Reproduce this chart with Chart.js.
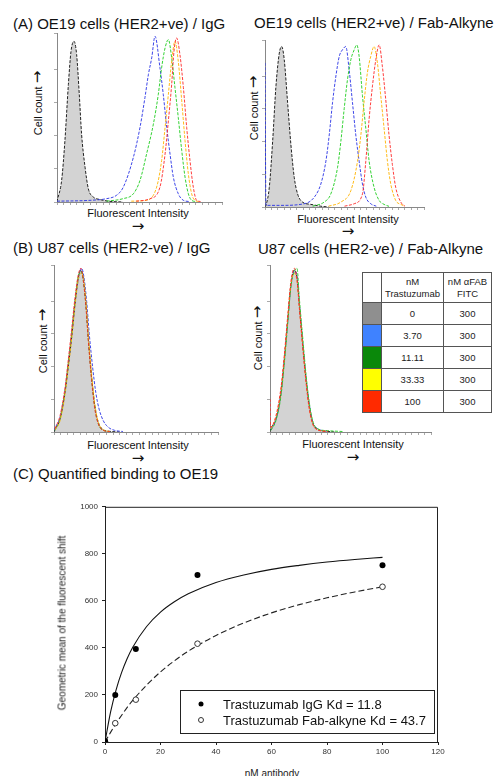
<!DOCTYPE html>
<html>
<head>
<meta charset="utf-8">
<script src="https://cdn.jsdelivr.net/npm/chart.js@4.4.0/dist/chart.umd.min.js"></script>
<style>
  body { margin: 0; background: #fff; font-family: "Liberation Sans", Arial, sans-serif; color: #111; }
  #page { position: relative; width: 502px; height: 776px; overflow: hidden; }
  canvas, .box { position: absolute; }
  .lbl { position: absolute; white-space: nowrap; transform: translate(-50%, -50%); }
  .rot { transform: translate(-50%, -50%) rotate(-90deg); }
  .title { position: absolute; white-space: nowrap; font-size: 15px; transform: translateY(-50%); }
  .ax { font-size: 11px; }
  .arr { font-family: "DejaVu Sans", sans-serif; font-size: 15px; line-height: 11px; }
  table.key { position: absolute; left: 362px; top: 272px; border-collapse: collapse; background: #fff;
              font-size: 9.5px; color: #222; text-align: center; }
  table.key td { border: 1px solid #555; padding: 0; height: 21px; }
  table.key tr.head td { height: 29px; line-height: 12px; }
  .leg { position: absolute; left: 180px; top: 690px; width: 253px; height: 42px; border: 1px solid #222; font-size: 13px; }
  .leg div { position: absolute; left: 42px; white-space: nowrap; transform: translateY(-50%); }
  .dot { position: absolute; width: 5px; height: 5px; border-radius: 50%; transform: translate(-50%, -50%); }
</style>
</head>
<body>
<div id="page">
  <div class="title" style="left:13px; top:23px">(A) OE19 cells (HER2+ve) / IgG</div>
  <div class="title" style="left:254px; top:22px">OE19 cells (HER2+ve) / Fab-Alkyne</div>
  <div class="title" style="left:13px; top:247px">(B) U87 cells (HER2-ve) / IgG</div>
  <div class="title" style="left:258px; top:248px">U87 cells (HER2-ve) / Fab-Alkyne</div>
  <div class="title" style="left:13px; top:473px">(C) Quantified binding to OE19</div>

  <div class="lbl rot ax" style="left:38px; top:103px">Cell count <span class="arr">→</span></div>
  <div class="lbl rot ax" style="left:254px; top:108px">Cell count <span class="arr">→</span></div>
  <div class="lbl rot ax" style="left:43px; top:341px">Cell count <span class="arr">→</span></div>
  <div class="lbl rot ax" style="left:258px; top:338px">Cell count <span class="arr">→</span></div>

  <div class="lbl ax" style="left:138px; top:213px">Fluorescent Intensity</div>
  <div class="lbl arr" style="left:138px; top:226px">→</div>
  <div class="lbl ax" style="left:348px; top:219px">Fluorescent Intensity</div>
  <div class="lbl arr" style="left:348px; top:231px">→</div>
  <div class="lbl ax" style="left:138px; top:445px">Fluorescent Intensity</div>
  <div class="lbl arr" style="left:138px; top:458px">→</div>
  <div class="lbl ax" style="left:353px; top:444px">Fluorescent Intensity</div>
  <div class="lbl arr" style="left:353px; top:457px">→</div>

  <canvas id="histA1" width="170" height="174" style="left:54px; top:31px"></canvas>
  <canvas id="histA2" width="164" height="172" style="left:262px; top:38px"></canvas>
  <canvas id="histB1" width="169" height="172" style="left:51px; top:263px"></canvas>
  <canvas id="histB2" width="166" height="172" style="left:267px; top:263px"></canvas>

  <table class="key">
    <tr class="head"><td style="width:18px"></td><td style="width:61px">nM<br>Trastuzumab</td><td style="width:47px">nM αFAB<br>FITC</td></tr>
    <tr><td style="background:#8f8f8f"></td><td>0</td><td>300</td></tr>
    <tr><td style="background:#3f82ff"></td><td>3.70</td><td>300</td></tr>
    <tr><td style="background:#0a880a"></td><td>11.11</td><td>300</td></tr>
    <tr><td style="background:#ffff00"></td><td>33.33</td><td>300</td></tr>
    <tr><td style="background:#ff2a00"></td><td>100</td><td>300</td></tr>
  </table>

  <canvas id="binding" width="385" height="266" style="left:65px; top:498px"></canvas>
  <div class="lbl rot" style="left:62px; top:623px; font-size:10px; color:#222">Geometric mean of the fluorescent shift</div>
  <div class="lbl" style="left:272px; top:773px; font-size:10px; color:#222">nM antibody</div>

  <div class="leg">
    <span class="dot" style="left:20px; top:13px; background:#000"></span>
    <div style="top:13px">Trastuzumab IgG Kd = 11.8</div>
    <span class="dot" style="left:20px; top:29px; border:1px solid #333; width:4px; height:4px; background:#fff"></span>
    <div style="top:29px">Trastuzumab Fab-alkyne Kd = 43.7</div>
  </div>
</div>

<script>
// Flow histograms: [intensity (% of axis width), cell count (% of peak)]
// (A) OE19 / IgG
const A1_gray   = [[0,0],[0.2,1],[2.8,13],[4.8,37],[6.9,71],[8.5,91],[10.3,97],[11.9,89],[13.5,65],[14.9,41],[17,21],[19,8],[22,3],[26,1.5],[32,0.4],[40,0]];
const A1_blue   = [[0,0.5],[20,1],[30,2],[36,4],[40.2,9],[46.3,27],[50.3,45],[53.3,63],[55.4,77],[57.4,87],[59.4,100],[62.4,81],[64.4,65],[66.5,45],[68.5,29],[70.5,15],[73.5,5],[76.6,1],[80,0.3]];
const A1_green  = [[30,0.5],[40,2],[46.3,5],[50.3,13],[54.3,29],[58.4,47],[61.4,65],[63.4,81],[65.5,93],[67.5,98],[69.5,87],[71.5,69],[73.5,51],[75.6,31],[77.6,15],[79.6,5],[81.6,1],[84,0.3]];
const A1_yellow = [[45,0.5],[54.3,1],[60.4,9],[63.4,25],[65.5,45],[67.5,65],[69.5,85],[71.5,97],[73.5,85],[75.6,61],[77.6,37],[79.6,17],[81.6,5],[83.6,1],[86,0.3]];
const A1_red    = [[48,0.5],[56.4,2],[62.4,9],[65.5,29],[67.5,49],[69.5,71],[70.9,91],[72.5,99],[74.5,89],[76.6,69],[78.6,45],[80.6,25],[82.6,9],[84.6,1],[87,0.3]];

// (A) OE19 / Fab-Alkyne
const A2_gray   = [[0,0],[0.6,1],[2.7,12],[4.8,40],[6.9,74],[9,94],[10.5,98],[12.1,90],[14.2,64],[16.3,38],[18.4,18],[20.5,8],[23.6,3],[28.9,1.6],[35,0.5],[40,0]];
const A2_blue   = [[0,88],[0.6,1],[10,1],[24.7,2],[31,6],[35.1,14],[38.3,28],[40.4,44],[42.5,64],[44.6,80],[46.7,92],[48.7,96],[50.8,98],[52.9,84],[55,64],[57.1,44],[59.2,28],[61.3,14],[63.4,6],[66.5,2],[70,0.5]];
const A2_green  = [[30,0.5],[37.2,3],[41.4,8],[45.6,24],[47.7,40],[49.8,60],[51.9,78],[54,90],[56.1,96],[57.7,99],[59.2,92],[61.3,68],[63.4,48],[65.5,28],[68.6,12],[71.8,4],[74.9,1.6],[78,0.4]];
const A2_yellow = [[40,0.5],[47.7,3],[54,10],[58.2,28],[60.3,44],[62.3,64],[64.4,82],[66.5,92],[68.6,98],[70.7,88],[72.8,68],[74.9,48],[77,28],[79.1,14],[82.2,4],[85.4,1.6],[88,0.4]];
const A2_red    = [[50,0.5],[56.1,2],[61.3,8],[63.4,28],[65.5,54],[67.6,74],[69.7,90],[71.8,99],[73.8,86],[75.9,66],[78,44],[80.1,26],[82.2,12],[85.4,3],[88,0.5]];

// (B) U87 / IgG
const B1_gray   = [[0,0],[0.6,1.4],[3.7,8],[6.7,24],[8.7,40],[10.8,58],[12.8,78],[14.8,94],[16.4,99],[17.8,94],[19.5,78],[20.9,58],[22.9,34],[24.9,16],[27,6],[30,1.4],[34.1,0.4],[40,0]];
const B1_blue   = [[0,1],[0.6,2.4],[3.7,9],[6.7,25],[8.7,41],[10.8,60],[12.8,79],[14.8,93],[16.8,100],[18.2,95],[19.9,80],[21.5,60],[23.5,40],[25.5,24],[27.5,14],[30,7],[33,3],[37,1],[42,0.3]];
const B1_green  = [[0.6,1],[3.7,8],[6.7,25],[8.7,42],[10.8,60],[12.8,80],[14.8,95],[16.4,98],[17.8,93],[19.5,77],[20.9,57],[22.9,33],[24.9,15],[27,5],[30,1],[34,0.3]];
const B1_yellow = [[0.6,1.2],[3.7,7],[6.7,23],[8.7,39],[10.8,57],[12.8,77],[14.8,93],[16.4,97],[17.8,95],[19.5,80],[20.9,60],[22.9,36],[24.9,17],[27,6],[30,1.5],[34,0.3]];
const B1_red    = [[0.6,2],[3.7,10],[6.7,27],[8.7,44],[10.8,63],[12.8,82],[14.8,96],[16.4,100],[17.8,93],[19.5,76],[20.9,56],[22.9,32],[24.9,14],[27,5],[30,1],[34,0.3]];

// (B) U87 / Fab-Alkyne
const B2_gray   = [[0,0],[0.6,2],[3.7,8],[6.8,24],[8.9,44],[11,68],[13,90],[15.1,99],[16.8,94],[18.2,78],[20.3,54],[22.4,32],[24.4,16],[26.5,6],[29.6,1.6],[35.8,0.4],[40,0]];
const B2_blue   = [[0.6,1.5],[3.7,8],[6.8,24],[8.9,45],[11,68],[13,89],[15.1,98],[16.8,95],[18.2,79],[20.3,55],[22.4,33],[24.4,17],[26.5,6],[29.6,2],[36,0.4]];
const B2_green  = [[0.6,1],[3.7,7],[6.8,22],[8.9,42],[11,66],[13,89],[15.1,98],[16.8,100],[18.2,82],[20.3,58],[22.4,35],[24.4,18],[26.5,7],[29.6,2],[35.8,0.8],[45,0.3]];
const B2_yellow = [[0.6,2],[3.7,9],[6.8,25],[8.9,45],[11,69],[13,90],[15.1,97],[16.8,92],[18.2,77],[20.3,53],[22.4,31],[24.4,15],[26.5,5],[29.6,1.5],[36,0.4]];
const B2_red    = [[0,20],[0.3,3],[3.7,10],[6.8,27],[8.9,47],[11,71],[13,92],[15.1,100],[16.8,93],[18.2,76],[20.3,52],[22.4,30],[24.4,14],[26.5,5],[29.6,1.2],[36,0.3]];

// (C) binding to OE19
const concNM  = [0, 3.7, 11.11, 33.33, 100];
const igGMean = [4, 200, 395, 710, 752];
const fabMean = [2, 80, 180, 418, 660];
const fitX    = [0, 2, 4, 6, 8, 10, 15, 20, 25, 30, 40, 50, 60, 70, 80, 90, 100];
const igGFit  = [0, 127, 222, 296, 355, 403, 491, 552, 596, 630, 678, 710, 734, 751, 765, 776, 785];
const fabFit  = [0, 41, 79, 114, 147, 177, 242, 298, 345, 386, 453, 506, 549, 584, 613, 638, 660];

function traceLine(data, color) {
    return {
        data: data,
        borderColor: color,
        borderWidth: 1,
        borderDash: [3, 1.5],
        pointRadius: 0,
        fill: false,
        cubicInterpolationMode: 'monotone',
        order: 0,
    };
}

function makeHistogram(id, gray, blue, green, yellow, red) {
    new Chart(document.getElementById(id), {
        type: 'line',
        data: {
            datasets: [
                traceLine(red, 'rgba(255,40,40,0.9)'),
                traceLine(yellow, 'rgba(255,180,0,0.9)'),
                traceLine(green, 'rgba(30,205,30,0.9)'),
                traceLine(blue, 'rgba(40,50,230,0.9)'),
                {
                    data: gray,
                    borderColor: '#222',
                    borderWidth: 1,
                    borderDash: [3, 1.5],
                    backgroundColor: '#d3d3d3',
                    pointRadius: 0,
                    fill: 'origin',
                    cubicInterpolationMode: 'monotone',
                    order: 1,
                },
            ],
        },
        options: {
            responsive: false,
            animation: false,
            events: [],
            layout: { padding: { top: 2, right: 2 } },
            plugins: { legend: { display: false }, tooltip: { enabled: false } },
            scales: {
                x: {
                    type: 'linear', min: 0, max: 100,
                    ticks: { display: false, stepSize: 4 },
                    grid: { drawOnChartArea: false, tickLength: 3, color: '#aaa' },
                    border: { color: '#888' },
                },
                y: {
                    min: 0, max: 102,
                    ticks: { display: false, stepSize: 20 },
                    grid: { drawOnChartArea: false, tickLength: 3, color: '#aaa' },
                    border: { color: '#888' },
                },
            },
        },
    });
}

makeHistogram('histA1', A1_gray, A1_blue, A1_green, A1_yellow, A1_red);
makeHistogram('histA2', A2_gray, A2_blue, A2_green, A2_yellow, A2_red);
makeHistogram('histB1', B1_gray, B1_blue, B1_green, B1_yellow, B1_red);
makeHistogram('histB2', B2_gray, B2_blue, B2_green, B2_yellow, B2_red);

// box round the plot area of panel C
const frame = {
    id: 'frame',
    afterDraw(chart) {
        const a = chart.chartArea;
        const ctx = chart.ctx;
        ctx.save();
        ctx.strokeStyle = '#222';
        ctx.lineWidth = 1;
        ctx.beginPath();
        ctx.moveTo(a.left, a.top + 0.5);
        ctx.lineTo(a.right - 0.5, a.top + 0.5);
        ctx.lineTo(a.right - 0.5, a.bottom);
        ctx.stroke();
        ctx.restore();
    },
};

const pts = (xs, ys) => xs.map((x, i) => ({ x: x, y: ys[i] }));
const tickFont = { family: 'Liberation Sans', size: 8 };

new Chart(document.getElementById('binding'), {
    type: 'scatter',
    data: {
        datasets: [
            { data: pts(concNM, igGMean), pointRadius: 3, backgroundColor: '#000', borderColor: '#000', borderWidth: 0 },
            { data: pts(concNM, fabMean), pointRadius: 2.8, backgroundColor: '#fff', borderColor: '#333', borderWidth: 1 },
            { data: pts(fitX, igGFit), showLine: true, pointRadius: 0, borderColor: '#111', borderWidth: 1.1, cubicInterpolationMode: 'monotone' },
            { data: pts(fitX, fabFit), showLine: true, pointRadius: 0, borderColor: '#222', borderWidth: 1.1, borderDash: [6, 3], cubicInterpolationMode: 'monotone' },
        ],
    },
    options: {
        responsive: false,
        animation: false,
        events: [],
        layout: { padding: { top: 6, right: 12 } },
        plugins: { legend: { display: false }, tooltip: { enabled: false } },
        scales: {
            x: {
                min: 0, max: 120,
                ticks: { stepSize: 20, font: tickFont, color: '#333', padding: 2, maxRotation: 0 },
                grid: { drawOnChartArea: false, tickLength: 3, color: '#222' },
                border: { color: '#222' },
                afterFit(s) { s.height = 22; },
            },
            y: {
                min: 0, max: 1000,
                ticks: { stepSize: 200, font: tickFont, color: '#333', padding: 4, callback: (v) => String(v) },
                grid: { drawOnChartArea: false, tickLength: 3, color: '#222' },
                border: { color: '#222' },
                afterFit(s) { s.width = 40; },
            },
        },
    },
    plugins: [frame],
});
</script>
</body>
</html>
